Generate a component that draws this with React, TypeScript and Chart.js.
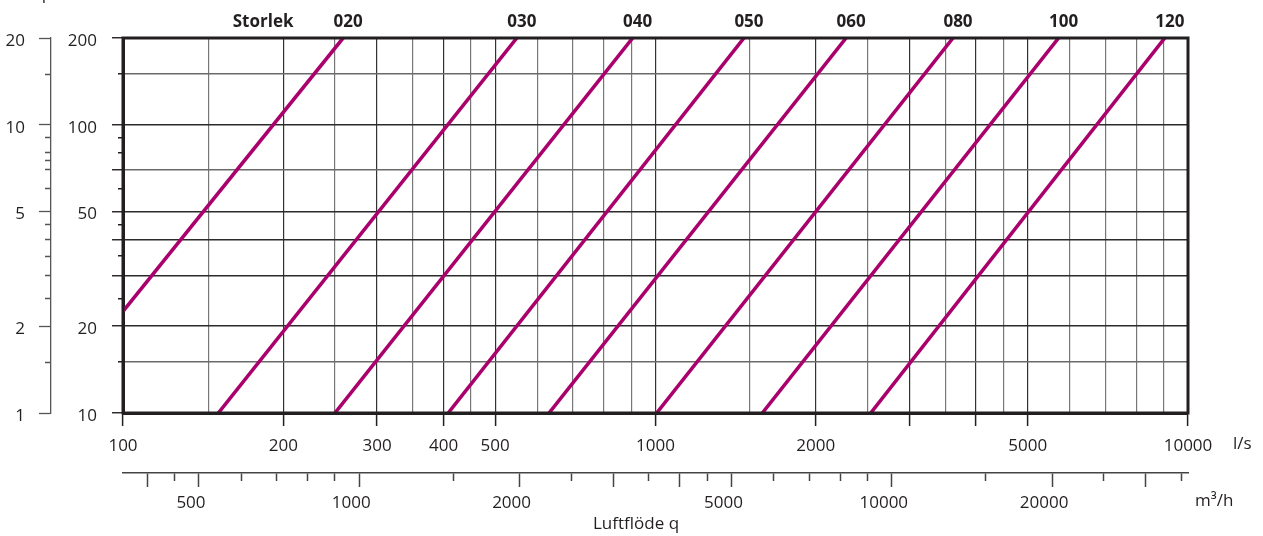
import React, { useEffect, useRef } from "react";
import { Chart, registerables } from "chart.js";

Chart.register(...registerables);

// ---- data ----
const sizes = ["020", "030", "040", "050", "060", "080", "100", "120"];
const sizeTitle = "Storlek";
// each size curve: start and end point (q in l/s, Δp in Pa)
const flowStart = [100, 151, 250, 408, 631, 1005, 1587, 2536];
const pressureStart = [22.5, 10, 10, 10, 10, 10, 10, 10];
const flowEnd = [259, 549, 906, 1466, 2280, 3620, 5715, 9045];
const pressureEnd = [200, 200, 200, 200, 200, 200, 200, 200];

// l/s axis
const flowGrid = [100, 145, 200, 250, 300, 350, 400, 450, 500, 600, 700, 800, 900, 1000, 1500, 2000, 2500, 3000, 3500, 4000, 4500, 5000, 6000, 7000, 8000, 9000, 10000];
const flowTickMarks = [100, 200, 300, 400, 500, 1000, 2000, 3000, 4000, 5000, 10000];
const flowLabels = [100, 200, 300, 400, 500, 1000, 2000, 5000, 10000];

// m³/h axis
const m3hTicks = [400, 450, 500, 600, 700, 800, 900, 1000, 1500, 2000, 2500, 3000, 3500, 4000, 4500, 5000, 6000, 7000, 8000, 9000, 10000, 15000, 20000, 25000, 30000, 35000];
const m3hLong = [400, 500, 1000, 2000, 3000, 4000, 5000, 10000, 20000, 30000];
const m3hLabels = [500, 1000, 2000, 5000, 10000, 20000];

// Pa axis
const paTicks = [10, 15, 20, 25, 30, 35, 40, 45, 50, 60, 70, 80, 90, 100, 150, 200];
const paGridDark = [20, 30, 40, 50, 100];
const paGridLight = [15, 70, 150];
const paLong = [10, 20, 30, 40, 50, 70, 100, 200];
const paLabels = [10, 20, 50, 100, 200];

// mm vp axis
const mmTicks = [1, 1.5, 2, 2.5, 3, 3.5, 4, 4.5, 5, 6, 7, 7.5, 8, 9, 10, 15, 20];
const mmLabels = [1, 2, 5, 10, 20];

const INK = "#231f20";
const MAGENTA = "#aa006c";
const FONT = "'Open Sans', 'Noto Sans', sans-serif";

const has = (arr: number[], v: number) =>
  arr.some((a) => Math.abs(a - v) < 1e-6 * Math.max(1, Math.abs(a)));

export default function App() {
  const ref = useRef<HTMLCanvasElement>(null);

  useEffect(() => {
    const canvas = ref.current;
    if (!canvas) return;

    const setTicks = (values: number[]) => (scale: any) => {
      scale.ticks = values.map((v) => ({ value: v }));
    };

    const datasets = sizes.map((s, i) => ({
      label: s,
      data: [
        { x: flowStart[i], y: pressureStart[i] },
        { x: flowEnd[i], y: pressureEnd[i] },
      ],
      showLine: true,
      borderColor: MAGENTA,
      backgroundColor: MAGENTA,
      borderWidth: 3.6,
      pointRadius: 0,
      pointHoverRadius: 0,
      fill: false,
      xAxisID: "x",
      yAxisID: "y",
    }));

    const textPlugin = {
      id: "frameAndText",
      afterDatasetsDraw(chart: any) {
        const { ctx, chartArea: a, scales } = chart;
        ctx.save();
        ctx.strokeStyle = INK;
        ctx.lineWidth = 3;
        ctx.strokeRect(a.left, a.top, a.right - a.left, a.bottom - a.top);

        ctx.fillStyle = INK;
        ctx.font = `bold 17px ${FONT}`;
        ctx.textAlign = "center";
        ctx.textBaseline = "alphabetic";
        const xs = scales.x;
        sizes.forEach((s, i) => {
          ctx.fillText(s, xs.getPixelForValue(flowEnd[i]) + 5, 27);
        });
        ctx.fillText(sizeTitle, xs.getPixelForValue(flowEnd[0]) - 80, 27);

        ctx.font = `17px ${FONT}`;
        ctx.textAlign = "left";
        ctx.textBaseline = "middle";
        ctx.fillText("l/s", a.right + 45, scales.x.top + 31);
        ctx.fillText("m³/h", a.right + 7, scales.x2.top + 28);
        ctx.textAlign = "center";
        ctx.fillText("Luftflöde q", 636, scales.x2.top + 51);

        ctx.textAlign = "left";
        ctx.textBaseline = "alphabetic";
        ctx.fillText("Δp", 32, -1);
        ctx.restore();
      },
    };

    const chart = new Chart(canvas, {
      type: "scatter",
      data: { datasets },
      plugins: [textPlugin],
      options: {
        animation: false,
        responsive: false,
        events: [],
        layout: { padding: { left: 0, top: 38, right: 75, bottom: 0 } },
        plugins: {
          legend: { display: false },
          tooltip: { enabled: false },
        },
        scales: {
          x: {
            type: "logarithmic",
            position: "bottom",
            weight: 0,
            min: 100,
            max: 10000,
            afterBuildTicks: setTicks(flowGrid),
            afterFit: (s: any) => {
              s.height = 60;
            },
            border: { display: true, color: INK, width: 3 },
            grid: {
              drawOnChartArea: true,
              drawTicks: true,
              tickLength: 13,
              color: (c: any) => {
                const v = c.tick?.value;
                if (v == null || v === 100 || v === 10000) return "rgba(0,0,0,0)";
                return has(flowTickMarks, v) ? "#333333" : "#777777";
              },
              lineWidth: 1.2,
              tickColor: (c: any) =>
                c.tick && has(flowTickMarks, c.tick.value) ? INK : "rgba(0,0,0,0)",
              tickWidth: 1.5,
            },
            ticks: {
              autoSkip: false,
              maxRotation: 0,
              minRotation: 0,
              padding: 10,
              color: INK,
              font: { family: FONT, size: 17 },
              callback: (v: any) => (has(flowLabels, Number(v)) ? String(v) : ""),
            },
          },
          x2: {
            type: "logarithmic",
            position: "bottom",
            weight: 1,
            min: 360,
            max: 36000,
            afterBuildTicks: setTicks(m3hTicks),
            afterFit: (s: any) => {
              s.height = 63;
            },
            border: { display: true, color: "#444", width: 1.5 },
            grid: {
              drawOnChartArea: false,
              drawTicks: true,
              tickLength: 14,
              tickColor: "#444",
              tickWidth: 1.5,
              tickBorderDash: (c: any) =>
                c.tick && has(m3hLong, c.tick.value) ? [] : [7.5, 100],
            },
            ticks: {
              autoSkip: false,
              maxRotation: 0,
              minRotation: 0,
              padding: 6,
              labelOffset: -8,
              color: INK,
              font: { family: FONT, size: 17 },
              callback: (v: any) => (has(m3hLabels, Number(v)) ? String(v) : ""),
            },
          },
          y: {
            type: "logarithmic",
            position: "left",
            weight: 0,
            min: 10,
            max: 200,
            afterBuildTicks: setTicks(paTicks),
            afterFit: (s: any) => {
              s.width = 72;
            },
            border: { display: true, color: INK, width: 3 },
            grid: {
              drawOnChartArea: true,
              drawTicks: true,
              tickLength: 11,
              color: (c: any) => {
                const v = c.tick?.value;
                if (v == null) return "rgba(0,0,0,0)";
                if (has(paGridDark, v)) return "#2b2b2b";
                if (has(paGridLight, v)) return "#6a6a6a";
                return "rgba(0,0,0,0)";
              },
              lineWidth: 1.5,
              tickColor: INK,
              tickWidth: 1.4,
              tickBorderDash: (c: any) =>
                c.tick && has(paLong, c.tick.value) ? [] : [0, 6, 100],
            },
            ticks: {
              autoSkip: false,
              padding: 15,
              labelOffset: 3,
              color: INK,
              font: { family: FONT, size: 17 },
              callback: (v: any) => (has(paLabels, Number(v)) ? String(v) : ""),
            },
          },
          y2: {
            type: "logarithmic",
            position: "left",
            weight: 1,
            min: 1,
            max: 20,
            afterBuildTicks: setTicks(mmTicks),
            afterFit: (s: any) => {
              s.width = 51;
            },
            border: { display: true, color: "#555", width: 1.3 },
            grid: {
              drawOnChartArea: false,
              drawTicks: true,
              tickLength: 12,
              tickColor: "#555",
              tickWidth: 1.3,
              tickBorderDash: (c: any) =>
                c.tick && has(mmLabels, c.tick.value) ? [] : [0, 6, 100],
            },
            ticks: {
              autoSkip: false,
              padding: 14,
              labelOffset: 3,
              color: INK,
              font: { family: FONT, size: 17 },
              callback: (v: any) => (has(mmLabels, Number(v)) ? String(v) : ""),
            },
          },
        },
      } as any,
    });

    return () => chart.destroy();
  }, []);

  return (
    <div style={{ position: "absolute", left: 0, top: 0, width: 1263, height: 536, background: "#fff" }}>
      <canvas ref={ref} width={1263} height={536} style={{ display: "block", width: 1263, height: 536 }} />
    </div>
  );
}
